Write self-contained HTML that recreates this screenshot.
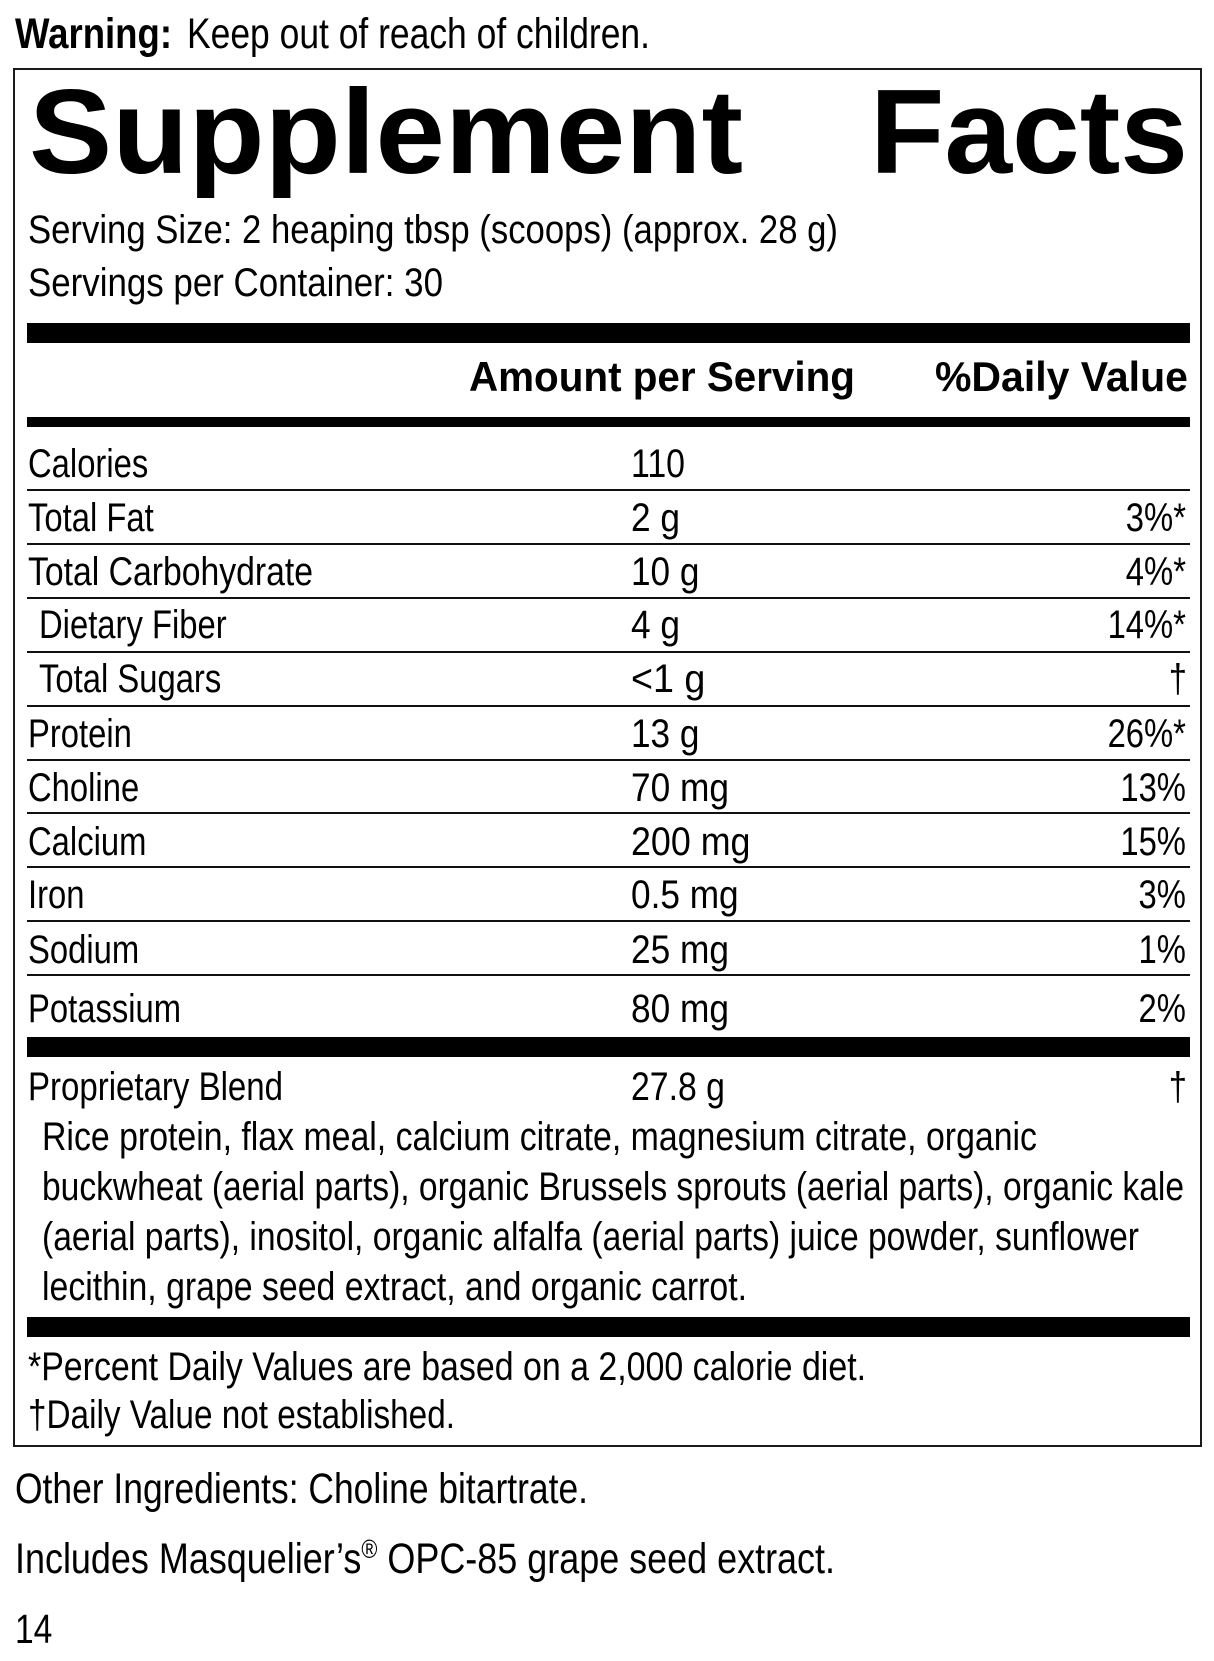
<!DOCTYPE html>
<html>
<head>
<meta charset="utf-8">
<style>
  html, body { margin: 0; padding: 0; background: #fff; }
  svg { display: block; }
  text { fill: #000; }
  .n { font-family: "Liberation Sans", "DejaVu Sans", sans-serif; font-size: 40px; }
  .b { font-family: "Liberation Sans", "DejaVu Sans", sans-serif; font-weight: bold; }
</style>
</head>
<body>
<svg width="1214" height="1661" viewBox="0 0 1214 1661" xmlns="http://www.w3.org/2000/svg">
  <rect x="0" y="0" width="1214" height="1661" fill="#fff"/>

  <!-- Box -->
  <rect x="14" y="69" width="1187" height="1377" fill="none" stroke="#1a1a1a" stroke-width="2"/>

  <!-- Title -->
  <text class="b" x="29" y="173" font-size="120" textLength="714" lengthAdjust="spacingAndGlyphs">Supplement</text>
  <text class="b" x="870" y="173" font-size="120" textLength="318" lengthAdjust="spacingAndGlyphs">Facts</text>

  <!-- Bars -->
  <rect x="27" y="323" width="1163" height="20" fill="#000"/>
  <rect x="27" y="417" width="1163" height="10" fill="#000"/>
  <rect x="27" y="1037" width="1163" height="20" fill="#000"/>
  <rect x="27" y="1317" width="1163" height="20" fill="#000"/>

  <!-- Row lines -->
  <g fill="#111">
    <rect x="27" y="489" width="1163" height="2"/>
    <rect x="27" y="543" width="1163" height="2"/>
    <rect x="27" y="597" width="1163" height="2"/>
    <rect x="27" y="651" width="1163" height="2"/>
    <rect x="27" y="705" width="1163" height="2"/>
    <rect x="27" y="759" width="1163" height="2"/>
    <rect x="27" y="812" width="1163" height="2"/>
    <rect x="27" y="866" width="1163" height="2"/>
    <rect x="27" y="920" width="1163" height="2"/>
    <rect x="27" y="974" width="1163" height="2"/>
  </g>

  <!-- Narrow text group -->
  <g transform="scale(0.82 1)">
    <!-- Warning -->
    <text class="b" x="18.29" y="48" font-size="43" textLength="191.5" lengthAdjust="spacingAndGlyphs">Warning:</text>
    <text class="n" x="228.05" y="48" font-size="43" style="font-size:43px" textLength="564.6" lengthAdjust="spacingAndGlyphs">Keep out of reach of children.</text>

    <!-- Serving info -->
    <text class="n" x="34.15" y="243" style="font-size:40px" textLength="987.8" lengthAdjust="spacingAndGlyphs">Serving Size: 2 heaping tbsp (scoops) (approx. 28 g)</text>
    <text class="n" x="34.15" y="296" style="font-size:40px" textLength="506.1" lengthAdjust="spacingAndGlyphs">Servings per Container: 30</text>

    <!-- Header -->
    <text class="b" x="571.95" y="391" font-size="42" textLength="470.7" lengthAdjust="spacingAndGlyphs">Amount per Serving</text>
    <text class="b" x="1140.2" y="391" font-size="42" textLength="308.5" lengthAdjust="spacingAndGlyphs">%Daily Value</text>

    <!-- Labels -->
    <text class="n" x="34.15" y="477">Calories</text>
    <text class="n" x="34.15" y="531">Total Fat</text>
    <text class="n" x="34.15" y="585" textLength="347.6" lengthAdjust="spacingAndGlyphs">Total Carbohydrate</text>
    <text class="n" x="47.56" y="638">Dietary Fiber</text>
    <text class="n" x="47.56" y="692">Total Sugars</text>
    <text class="n" x="34.15" y="747">Protein</text>
    <text class="n" x="34.15" y="801">Choline</text>
    <text class="n" x="34.15" y="855">Calcium</text>
    <text class="n" x="34.15" y="908">Iron</text>
    <text class="n" x="34.15" y="963">Sodium</text>
    <text class="n" x="34.15" y="1022">Potassium</text>

    <!-- Values -->
    <text class="n" x="769.5" y="477" textLength="65.9" lengthAdjust="spacingAndGlyphs">110</text>
    <text class="n" x="769.5" y="531" textLength="59.8" lengthAdjust="spacingAndGlyphs">2 g</text>
    <text class="n" x="769.5" y="585" textLength="83.5" lengthAdjust="spacingAndGlyphs">10 g</text>
    <text class="n" x="769.5" y="638" textLength="59.8" lengthAdjust="spacingAndGlyphs">4 g</text>
    <text class="n" x="769.5" y="692" textLength="90.7" lengthAdjust="spacingAndGlyphs">&lt;1 g</text>
    <text class="n" x="769.5" y="747" textLength="83.5" lengthAdjust="spacingAndGlyphs">13 g</text>
    <text class="n" x="769.5" y="801" textLength="119.5" lengthAdjust="spacingAndGlyphs">70 mg</text>
    <text class="n" x="769.5" y="855" textLength="145.7" lengthAdjust="spacingAndGlyphs">200 mg</text>
    <text class="n" x="769.5" y="908" textLength="131.3" lengthAdjust="spacingAndGlyphs">0.5 mg</text>
    <text class="n" x="769.5" y="963" textLength="119.5" lengthAdjust="spacingAndGlyphs">25 mg</text>
    <text class="n" x="769.5" y="1022" textLength="119.5" lengthAdjust="spacingAndGlyphs">80 mg</text>

    <!-- Daily values -->
    <g text-anchor="end">
      <text class="n" x="1446.3" y="531">3%*</text>
      <text class="n" x="1446.3" y="585">4%*</text>
      <text class="n" x="1446.3" y="638">14%*</text>
      <text class="n" x="1447.6" y="692">†</text>
      <text class="n" x="1446.3" y="747">26%*</text>
      <text class="n" x="1446.3" y="801">13%</text>
      <text class="n" x="1446.3" y="855">15%</text>
      <text class="n" x="1446.3" y="908">3%</text>
      <text class="n" x="1446.3" y="963">1%</text>
      <text class="n" x="1446.3" y="1022">2%</text>
      <text class="n" x="1447.6" y="1100">†</text>
    </g>

    <!-- Proprietary blend -->
    <text class="n" x="34.15" y="1100" textLength="311" lengthAdjust="spacingAndGlyphs">Proprietary Blend</text>
    <text class="n" x="769.5" y="1100" textLength="114.6" lengthAdjust="spacingAndGlyphs">27.8 g</text>
    <text class="n" x="51.22" y="1150" textLength="1213.4" lengthAdjust="spacingAndGlyphs">Rice protein, flax meal, calcium citrate, magnesium citrate, organic</text>
    <text class="n" x="51.22" y="1200" textLength="1392.7" lengthAdjust="spacingAndGlyphs">buckwheat (aerial parts), organic Brussels sprouts (aerial parts), organic kale</text>
    <text class="n" x="51.22" y="1250" textLength="1337.8" lengthAdjust="spacingAndGlyphs">(aerial parts), inositol, organic alfalfa (aerial parts) juice powder, sunflower</text>
    <text class="n" x="51.22" y="1300" textLength="859.8" lengthAdjust="spacingAndGlyphs">lecithin, grape seed extract, and organic carrot.</text>

    <!-- Footnotes -->
    <text class="n" x="34.15" y="1380" textLength="1022" lengthAdjust="spacingAndGlyphs">*Percent Daily Values are based on a 2,000 calorie diet.</text>
    <text class="n" x="34.15" y="1428" textLength="520.7" lengthAdjust="spacingAndGlyphs">†Daily Value not established.</text>

    <!-- Below box -->
    <text class="n" x="18.29" y="1503" style="font-size:43px" textLength="698.8" lengthAdjust="spacingAndGlyphs">Other Ingredients: Choline bitartrate.</text>
    <text class="n" x="18.29" y="1573" style="font-size:43px" textLength="1000" lengthAdjust="spacingAndGlyphs">Includes Masquelier’s<tspan style="font-size:26px" dy="-15">®</tspan><tspan dy="15"> OPC-85 grape seed extract.</tspan></text>
    <text class="n" x="18.29" y="1643" style="font-size:41px">14</text>
  </g>
</svg>
</body>
</html>
